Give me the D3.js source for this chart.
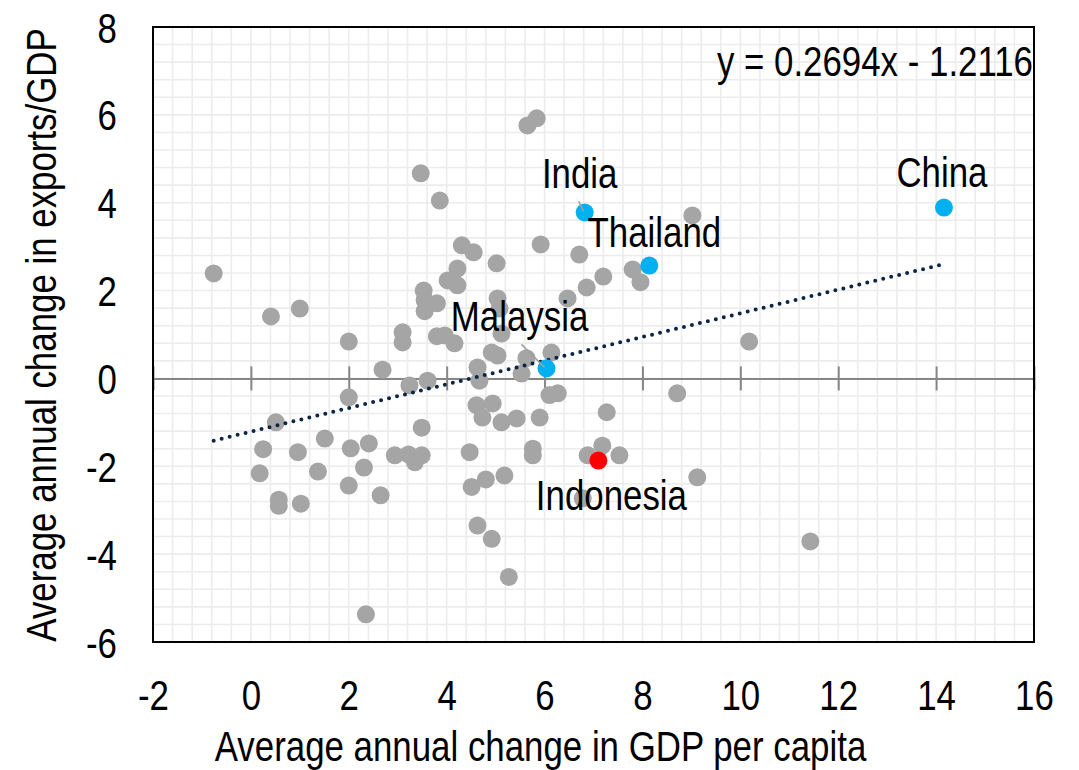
<!DOCTYPE html>
<html>
<head>
<meta charset="utf-8">
<script src="https://cdn.jsdelivr.net/npm/d3@7"></script>
<style>
  html, body { margin: 0; padding: 0; background: #ffffff; }
  svg { display: block; }
  text { font-family: "Liberation Sans", Arial, sans-serif; fill: #000; }
</style>
</head>
<body>
<svg id="chart" width="1079" height="770"></svg>
<script>
// Unlabelled economies: average annual change in GDP per capita (x) vs exports/GDP (y)
const otherX = [
  -0.76, 0.41, 1.00, 2.00, 2.69, 0.51, 0.25, 0.18, 0.57, 0.57,
  1.02, 0.96, 1.37, 1.51, 2.00, 2.04, 2.00, 2.41, 2.31, 2.65,
  2.35, 2.94, 3.22, 3.35, 3.49, 3.49, 3.24, 3.61, 3.10, 3.10,
  3.53, 3.55, 3.80, 3.55, 4.22, 4.02, 4.22, 4.31, 4.55, 5.02,
  3.80, 3.96, 4.16, 5.04, 5.08, 5.12, 4.63, 4.67, 4.92, 5.04,
  5.63, 5.53, 6.14, 4.61, 4.94, 4.73, 5.12, 5.43, 5.90, 6.10,
  6.27, 4.47, 4.51, 4.80, 5.18, 4.63, 4.92, 5.27, 5.76, 5.76,
  3.47, 3.86, 5.65, 5.84, 5.92, 6.71, 9.02, 7.80, 7.96, 7.20,
  6.86, 6.47, 10.18, 8.71, 7.27, 7.18, 6.88, 7.53, 9.12, 6.78,
  11.43
];
const otherY = [
  2.39, 1.41, 1.59, 0.84, 0.20, -1.00, -1.61, -2.16, -2.76, -2.90,
  -2.85, -1.68, -2.12, -1.37, -0.43, -1.59, -2.44, -1.48, -2.03, -2.66,
  -5.37, -1.75, -1.73, -1.91, -1.75, -1.12, -0.16, -0.05, 1.05, 0.82,
  2.00, 1.78, 1.71, 1.53, 2.50, 2.23, 2.12, 3.03, 2.87, 2.62,
  0.96, 0.98, 0.80, 1.82, 1.59, 1.02, 0.25, -0.05, 0.59, 0.52,
  0.46, 0.11, 0.59, -0.61, -0.57, -0.89, -1.00, -0.91, -0.89, -0.38,
  -0.34, -1.68, -2.47, -2.30, -2.21, -3.35, -3.65, -4.52, -1.60, -1.75,
  4.67, 4.05, 5.76, 5.92, 3.05, 2.82, 3.71, 2.48, 2.19, 2.32,
  2.07, 1.82, 0.84, -0.34, -0.77, -1.53, -1.75, -1.75, -2.25, -2.73,
  -3.71
];

// Labelled economies
const namedCountries = ["India", "Thailand", "China", "Malaysia", "Indonesia"];
const namedX = [6.82, 8.14, 14.16, 6.04, 7.10];
const namedY = [3.78, 2.57, 3.89, 0.23, -1.87];

// Linear trend fitted across all economies
const trendSlope = 0.2694;
const trendIntercept = -1.2116;

// Axis ticks
const xTicks = [-2, 0, 2, 4, 6, 8, 10, 12, 14, 16];
const yTicks = [-6, -4, -2, 0, 2, 4, 6, 8];

const xTitle = "Average annual change in GDP per capita";
const yTitle = "Average annual change in exports/GDP";

// ---- layout and styling ----
const W = 1079, H = 770;
const plot = { left: 153, right: 1034, top: 27, bottom: 642 };
const FONT = 42;          // font size for every text element
const NARROW = 0.83;      // horizontal squeeze to get a narrow face

const colors = {
  other: "#a5a5a5",
  highlight: "#00b0f0",
  Indonesia: "#ff0000",
  trend: "#0b2545",
  grid: "#ececec",
  zeroAxis: "#868686",
  leader: "#a0a0a0"
};

// label placement relative to its point: dx, dy (baseline), optional leader line
const labelLayout = {
  India:     { dx: -5,  dy: -24, leader: [[-6, -11], [-1, -1]] },
  Thailand:  { dx: 5,   dy: -19 },
  China:     { dx: -2,  dy: -21 },
  Malaysia:  { dx: -27, dy: -37, leader: [[-25, -24], [-2, -1]] },
  Indonesia: { dx: 13,  dy: 49 }
};

// plain hyphen for negative tick labels
const tickFmt = d => String(d);

const svg = d3.select("#chart");

const x = d3.scaleLinear().domain([-2, 16]).range([plot.left, plot.right]);
const y = d3.scaleLinear().domain([-6, 8]).range([plot.bottom, plot.top]);

// minor grid every 0.4 units in both directions
const gridStep = 0.4;
const xGrid = d3.range(0, Math.round((16 - -2) / gridStep) + 1).map(i => -2 + i * gridStep);
const yGrid = d3.range(0, Math.round((8 - -6) / gridStep) + 1).map(i => -6 + i * gridStep);

const gGrid = svg.append("g").attr("class", "grid");
gGrid.selectAll("line.v").data(xGrid).join("line")
  .attr("class", "v")
  .attr("x1", d => x(d)).attr("x2", d => x(d))
  .attr("y1", plot.top).attr("y2", plot.bottom)
  .attr("stroke", colors.grid).attr("stroke-width", 1.6);
gGrid.selectAll("line.h").data(yGrid).join("line")
  .attr("class", "h")
  .attr("y1", d => y(d)).attr("y2", d => y(d))
  .attr("x1", plot.left).attr("x2", plot.right)
  .attr("stroke", colors.grid).attr("stroke-width", 1.6);

// horizontal axis line at y = 0 with crossing tick marks
const zeroAxis = d3.axisBottom(x).tickValues(xTicks).tickSize(0).tickFormat("");
const gZero = svg.append("g")
  .attr("transform", `translate(0,${y(0)})`)
  .call(zeroAxis);
gZero.select(".domain").attr("stroke", colors.zeroAxis).attr("stroke-width", 2);
gZero.selectAll(".tick line")
  .attr("y1", -12).attr("y2", 12)
  .attr("stroke", colors.zeroAxis).attr("stroke-width", 2);

// points: unlabelled first, then the highlighted ones
const others = otherX.map((v, i) => ({ x: v, y: otherY[i] }));
const named = namedCountries.map((n, i) => ({ name: n, x: namedX[i], y: namedY[i] }));

svg.append("g").selectAll("circle").data(others).join("circle")
  .attr("cx", d => x(d.x)).attr("cy", d => y(d.y))
  .attr("r", 9)
  .attr("fill", colors.other);

// trend line over the full range of the data, drawn dotted
const all = others.concat(named);
const xMin = d3.min(all, d => d.x), xMax = d3.max(all, d => d.x);
svg.append("line")
  .attr("x1", x(xMin)).attr("y1", y(trendSlope * xMin + trendIntercept))
  .attr("x2", x(xMax)).attr("y2", y(trendSlope * xMax + trendIntercept))
  .attr("stroke", colors.trend)
  .attr("stroke-width", 4)
  .attr("stroke-linecap", "round")
  .attr("stroke-dasharray", "0 8.2");

// highlighted economies
svg.append("g").selectAll("circle").data(named).join("circle")
  .attr("cx", d => x(d.x)).attr("cy", d => y(d.y))
  .attr("r", 9)
  .attr("fill", d => colors[d.name] || colors.highlight);

// leader lines
named.forEach(d => {
  const L = labelLayout[d.name];
  if (!L.leader) return;
  const px = x(d.x), py = y(d.y);
  svg.append("line")
    .attr("x1", px + L.leader[0][0]).attr("y1", py + L.leader[0][1])
    .attr("x2", px + L.leader[1][0]).attr("y2", py + L.leader[1][1])
    .attr("stroke", colors.leader).attr("stroke-width", 1.6);
});

// helper: narrow text at a point
function narrowText(g, tx, ty, str, anchor, rotate) {
  return g.append("text")
    .attr("transform", `translate(${tx},${ty})` + (rotate ? ` rotate(${rotate})` : "") + ` scale(${NARROW},1)`)
    .attr("text-anchor", anchor)
    .attr("font-size", FONT)
    .text(str);
}

// country labels
named.forEach(d => {
  const L = labelLayout[d.name];
  narrowText(svg, x(d.x) + L.dx, y(d.y) + L.dy, d.name, "middle");
});

// plot frame
svg.append("rect")
  .attr("x", plot.left).attr("y", plot.top)
  .attr("width", plot.right - plot.left).attr("height", plot.bottom - plot.top)
  .attr("fill", "none").attr("stroke", "#000").attr("stroke-width", 2);

// tick labels through d3 axes
const xAxis = d3.axisBottom(x).tickValues(xTicks).tickSize(0).tickFormat(tickFmt);
const gx = svg.append("g").attr("transform", `translate(0,${plot.bottom})`).call(xAxis);
gx.select(".domain").remove();
gx.selectAll(".tick text")
  .attr("y", null).attr("dy", null)
  .attr("transform", `translate(0,68) scale(${NARROW},1)`)
  .attr("font-size", FONT)
  .attr("font-family", "Liberation Sans, Arial, sans-serif")
  .attr("fill", "#000");

const yAxis = d3.axisLeft(y).tickValues(yTicks).tickSize(0).tickFormat(tickFmt);
const gy = svg.append("g").attr("transform", `translate(${plot.left},0)`).call(yAxis);
gy.select(".domain").remove();
gy.selectAll(".tick text")
  .attr("x", null).attr("dy", "0.36em")
  .attr("transform", `translate(-36,0) scale(${NARROW},1)`)
  .attr("text-anchor", "end")
  .attr("font-size", FONT)
  .attr("font-family", "Liberation Sans, Arial, sans-serif")
  .attr("fill", "#000");

// regression equation
narrowText(svg, 1033, 76,
  `y = ${trendSlope.toFixed(4)}x ${trendIntercept < 0 ? "-" : "+"} ${Math.abs(trendIntercept).toFixed(4)}`,
  "end");

// axis titles
narrowText(svg, (plot.left + plot.right) / 2 - 53, 761, xTitle, "middle");
narrowText(svg, 56, 335, yTitle, "middle", -90);
</script>
</body>
</html>
